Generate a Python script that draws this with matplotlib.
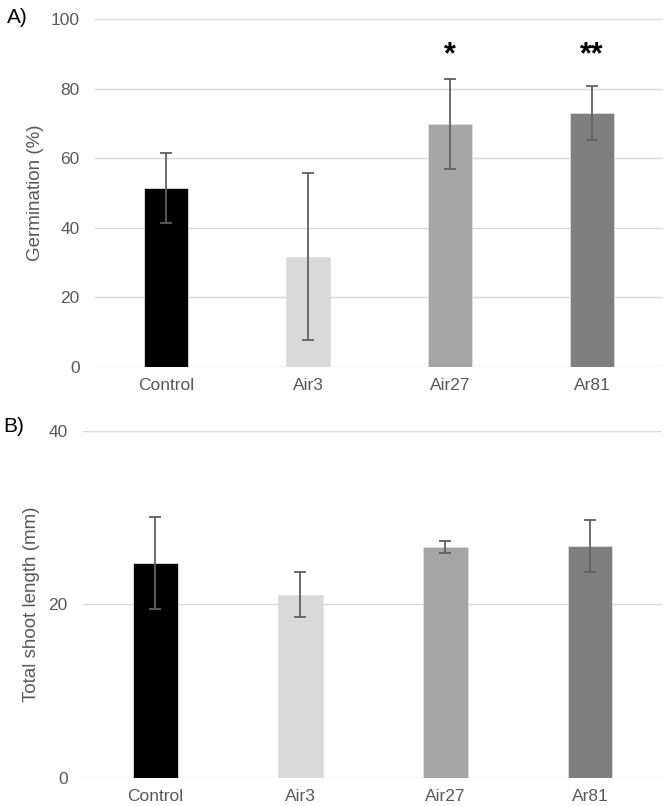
"""
Germination and shoot length bar charts (panels A and B)
"""

import matplotlib
matplotlib.use('Agg')
import matplotlib.pyplot as plt
import numpy as np

plt.rcParams['font.family'] = ['Liberation Sans', 'DejaVu Sans']

# Data
treatments = ['Control', 'Air3', 'Air27', 'Ar81']
bar_colors = ['#000000', '#d9d9d9', '#a5a5a5', '#7f7f7f']

germination = [51.5, 31.7, 69.8, 73.0]
germination_err = [10.0, 24.0, 13.0, 7.7]
germination_sig = ['', '', '*', '**']

shoot_length = [24.8, 21.1, 26.6, 26.7]
shoot_length_err = [5.3, 2.6, 0.7, 3.0]

grid_color = '#d9d9d9'
text_color = '#595959'
err_color = '#606060'


def style_axes(ax, ymax, yticks):
    ax.set_ylim(0, ymax)
    ax.set_xlim(-0.5, len(treatments) - 0.5)
    ax.set_yticks(yticks)
    for s in ax.spines.values():
        s.set_visible(False)
    ax.yaxis.grid(True, color=grid_color, linewidth=1.0, zorder=0)
    ax.set_axisbelow(True)
    ax.tick_params(axis='both', length=0, labelsize=12.5, colors=text_color)
    ax.tick_params(axis='y', pad=11)
    ax.tick_params(axis='x', pad=8)
    ax.set_xticks(np.arange(len(treatments)))
    ax.set_xticklabels(treatments)


fig = plt.figure(figsize=(6.66, 8.06), dpi=100)

# ============ Panel A: Germination ============
ax1 = fig.add_axes([0.1426, 0.5447, 0.8529, 0.4317])
x = np.arange(len(treatments))
ax1.bar(x, germination, width=0.31, color=bar_colors, edgecolor='#e0e0e0',
        linewidth=0.6, zorder=2)
ax1.errorbar(x, germination, yerr=germination_err, fmt='none', ecolor=err_color,
             elinewidth=1.3, capsize=4, capthick=1.3, zorder=3)
style_axes(ax1, 100, [0, 20, 40, 60, 80, 100])
ax1.set_ylabel('Germination (%)', fontsize=13.5, color=text_color, labelpad=5)
for xi, sig in zip(x, germination_sig):
    if sig:
        ax1.text(xi, 87.2, sig, ha='center', va='baseline', fontsize=22,
                 fontweight='bold', color='black')
fig.text(0.01, 1 - 23 / 806, 'A)', fontsize=15, ha='left', va='baseline', color='black')

# ============ Panel B: Shoot length ============
ax2 = fig.add_axes([0.1246, 0.0351, 0.8701, 0.4305])
ax2.bar(x, shoot_length, width=0.31, color=bar_colors, edgecolor='#e0e0e0',
        linewidth=0.6, zorder=2)
ax2.errorbar(x, shoot_length, yerr=shoot_length_err, fmt='none', ecolor=err_color,
             elinewidth=1.3, capsize=4, capthick=1.3, zorder=3)
style_axes(ax2, 40, [0, 20, 40])
ax2.set_ylabel('Total shoot length (mm)', fontsize=13.5, color=text_color, labelpad=6)
fig.text(0.0045, 1 - 432 / 806, 'B)', fontsize=15, ha='left', va='baseline', color='black')

plt.savefig('out.png', dpi=100, facecolor='white')
plt.close()
